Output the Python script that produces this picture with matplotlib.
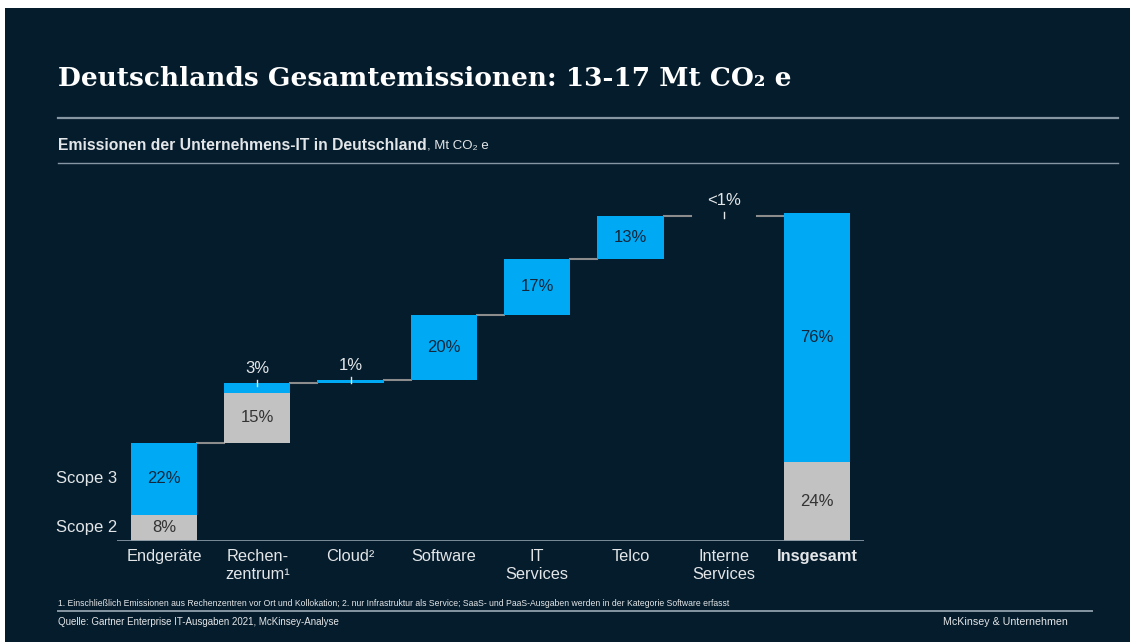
import matplotlib.pyplot as plt
import numpy as np

# data (percent of total)
categories = ['Endgeräte', 'Rechen-\nzentrum¹', 'Cloud²', 'Software', 'IT\nServices',
              'Telco', 'Interne\nServices', 'Insgesamt']
scope2 = [8, 15, 0, 0, 0, 0, 0]
scope3 = [22, 3, 1, 20, 17, 13, 0.1]
scope2_labels = ['8%', '15%', '', '', '', '', '']
scope3_labels = ['22%', '3%', '1%', '20%', '17%', '13%', '<1%']
total_scope2 = 24
total_scope3 = 76

BG = '#051c2c'
BLUE = '#00a9f4'
GREY = '#c2c2c2'
LINE = '#8696a3'
TXT = '#e3e6e8'
DARK = '#14273a'

plt.rcParams['font.family'] = ['Liberation Sans', 'DejaVu Sans']

fig = plt.figure(figsize=(11.3, 6.42), dpi=100, facecolor='white')
W, H = 1130, 642

def fx(px):
    return px / W

def fy(py):
    return 1 - py / H

# dark slide background with thin white margin top/left
fig.patches.append(plt.Rectangle((fx(5), 0), 1 - fx(5), fy(8), transform=fig.transFigure,
                                 facecolor=BG, edgecolor='none', zorder=-10))

# title and subtitle
fig.text(fx(58), fy(78), 'Deutschlands Gesamtemissionen: 13-17 Mt CO₂ e',
         family=['DejaVu Serif'], fontweight='bold', fontsize=19,
         color='white', va='center')
fig.lines.append(plt.Line2D([fx(58), fx(1118)], [fy(118), fy(118)], transform=fig.transFigure,
                            color=LINE, lw=1.6))
t = fig.text(fx(58), fy(146), 'Emissionen der Unternehmens-IT in Deutschland',
             fontweight='bold', fontsize=11.3, color=TXT, va='center')
fig.canvas.draw()
bb = t.get_window_extent()
fig.text(bb.x1 / W, fy(146), ', Mt CO₂ e', fontsize=9.5, color=TXT, va='center')
fig.lines.append(plt.Line2D([fx(58), fx(1118)], [fy(163), fy(163)], transform=fig.transFigure,
                            color=LINE, lw=1.0))

# chart axes
ax = fig.add_axes([fx(117.3), fy(541), fx(746.4), (541 - 180) / H])
ax.set_facecolor('none')
ax.set_xlim(-0.5, 7.5)
ax.set_ylim(0, 110)
for s in ax.spines.values():
    s.set_visible(False)
ax.set_yticks([])

x = np.arange(len(categories))
bw = 0.71
s2 = np.array(scope2, dtype=float)
s3 = np.array(scope3, dtype=float)
top = np.cumsum(s2 + s3)
base = top - s2 - s3

ax.bar(x[:-1], s2, bw, bottom=base, color=GREY, zorder=2)
ax.bar(x[:-1], s3, bw, bottom=base + s2, color=BLUE, zorder=2)
ax.bar(x[-1], total_scope2, bw, color=GREY, zorder=2)
ax.bar(x[-1], total_scope3, bw, bottom=total_scope2, color=BLUE, zorder=2)

# connectors
for i in range(len(categories) - 1):
    ax.plot([x[i] + bw / 2, x[i + 1] - bw / 2], [top[i], top[i]], color='#8c8c8c', lw=1.5, zorder=1)

# value labels
FS = 12
for i in range(len(scope2)):
    if scope2_labels[i]:
        ax.text(x[i], base[i] + s2[i] / 2, scope2_labels[i], ha='center', va='center',
                fontsize=FS, color='#333333', zorder=3)
    if s3[i] >= 8:
        ax.text(x[i], base[i] + s2[i] + s3[i] / 2, scope3_labels[i], ha='center', va='center',
                fontsize=FS, color=DARK, zorder=3)
    else:
        ax.text(x[i], top[i] + 2.3, scope3_labels[i], ha='center', va='bottom',
                fontsize=FS, color=TXT, zorder=3)
        ax.plot([x[i], x[i]], [top[i] - 0.8, top[i] + 1.0], color=TXT, lw=1, zorder=3)

ax.text(x[-1], total_scope2 / 2, f'{total_scope2}%', ha='center', va='center', fontsize=FS, color='#333333')
ax.text(x[-1], total_scope2 + total_scope3 / 2, f'{total_scope3}%', ha='center', va='center',
        fontsize=FS, color=DARK)

# baseline
ax.axhline(0, color=LINE, lw=2, zorder=4)

# scope labels
ax.text(-0.5, scope2[0] / 2, 'Scope 2', ha='right', va='center', fontsize=FS, color=TXT)
ax.text(-0.5, scope2[0] + scope3[0] / 2, 'Scope 3', ha='right', va='center', fontsize=FS, color=TXT)

ax.set_xticks(x)
ax.set_xticklabels(categories, fontsize=11.8, color=TXT, linespacing=1.2)
ax.get_xticklabels()[-1].set_fontweight('bold')
ax.tick_params(axis='x', length=0, pad=6)

# footer
fig.text(fx(58), fy(603), '1. Einschließlich Emissionen aus Rechenzentren vor Ort und Kollokation; '
         '2. nur Infrastruktur als Service; SaaS- und PaaS-Ausgaben werden in der Kategorie Software erfasst',
         fontsize=6.2, color=TXT, va='center')
fig.lines.append(plt.Line2D([fx(58), fx(1092)], [fy(611), fy(611)], transform=fig.transFigure,
                            color=LINE, lw=1.4))
fig.text(fx(58), fy(622), 'Quelle: Gartner Enterprise IT-Ausgaben 2021, McKinsey-Analyse',
         fontsize=7.0, color=TXT, va='center')
fig.text(fx(943), fy(622), 'McKinsey & Unternehmen', fontsize=7.7, color=TXT, va='center')

fig.savefig('out.png', dpi=100, facecolor=fig.get_facecolor())
